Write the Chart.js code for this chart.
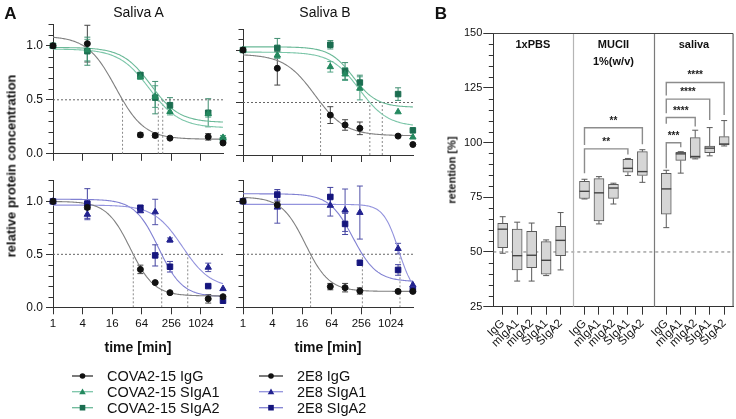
<!DOCTYPE html>
<html><head><meta charset="utf-8">
<script src="https://cdn.jsdelivr.net/npm/chart.js@4.4.1/dist/chart.umd.min.js"></script>
<style>
html,body{margin:0;padding:0;background:#fff}
body{width:736px;height:419px;position:relative;overflow:hidden;font-family:"Liberation Sans",Arial,Helvetica,sans-serif;color:#111}
canvas{position:absolute}
.tx{position:absolute;white-space:nowrap;line-height:1;transform:translate(-50%,-50%)}
.rot{transform:translate(-50%,-50%) rotate(-90deg)}
.lg{position:absolute;white-space:nowrap;line-height:1;transform:translateY(-50%);font-size:14.5px}
</style></head><body>
<canvas id="aTL" width="228" height="150" style="left:0;top:14px"></canvas>
<canvas id="aTR" width="190" height="150" style="left:228px;top:14px"></canvas>
<canvas id="aBL" width="228" height="170" style="left:0;top:170px"></canvas>
<canvas id="aBR" width="190" height="170" style="left:228px;top:170px"></canvas>
<canvas id="pB" width="296" height="340" style="left:440px;top:20px"></canvas>
<svg id="legSvg" style="position:absolute;left:0;top:360px" width="320" height="60"></svg>
<div class="tx" style="left:10.5px;top:13px;font-weight:bold;font-size:17px">A</div>
<div class="tx" style="left:441px;top:13px;font-weight:bold;font-size:17px">B</div>
<div class="tx" style="left:138.5px;top:11.5px;font-size:14px">Saliva A</div>
<div class="tx" style="left:325px;top:11.5px;font-size:14px">Saliva B</div>
<div class="tx rot" style="left:10.5px;top:166px;font-weight:bold;font-size:13px">relative protein concentration</div>
<div class="tx" style="left:138px;top:347px;font-weight:bold;font-size:14px">time [min]</div>
<div class="tx" style="left:328px;top:347px;font-weight:bold;font-size:14px">time [min]</div>
<div class="tx rot" style="left:452px;top:170px;font-weight:bold;font-size:11px">retention [%]</div>
<div id="legText"></div>
<script>
const F = '"Liberation Sans", Arial, Helvetica, sans-serif';
Chart.defaults.font.family = F;

// ---------------- Panel A data ----------------
const timesMin = [1, 5, 60, 120, 240, 1440, 2880];
const xTicksA = [1, 4, 16, 64, 256, 1024];
const yTicksA = [0, 0.5, 1.0];

// Saliva A, COVA2-15
const saA_covaIgG      = [1.00, 1.02, 0.175, 0.17, 0.145, 0.157, 0.10];
const saA_covaIgG_sd   = [0, 0.17, 0.02, 0.02, 0.01, 0.03, 0.01];
const saA_covaSIgA1    = [1.00, 0.96, 0.71, 0.53, 0.39, 0.37, 0.15];
const saA_covaSIgA1_sd = [0, 0.10, 0.02, 0.10, 0.03, 0.03, 0.02];
const saA_covaSIgA2    = [1.00, 0.95, 0.73, 0.52, 0.45, 0.38, 0.13];
const saA_covaSIgA2_sd = [0, 0.13, 0.02, 0.15, 0.07, 0.13, 0.02];
// Saliva B, COVA2-15
const saB_covaIgG      = [1.00, 0.826, 0.38, 0.286, 0.254, 0.18, 0.10];
const saB_covaIgG_sd   = [0, 0.16, 0.08, 0.05, 0.06, 0.01, 0];
const saB_covaSIgA1    = [1.00, 0.95, 0.84, 0.77, 0.635, 0.41, 0.17];
const saB_covaSIgA1_sd = [0, 0.03, 0.05, 0.06, 0.11, 0, 0];
const saB_covaSIgA2    = [1.00, 1.02, 1.05, 0.80, 0.69, 0.58, 0.235];
const saB_covaSIgA2_sd = [0, 0.09, 0.04, 0.08, 0.07, 0.06, 0];
// Saliva A, 2E8
const saA_e8IgG      = [1.00, 0.943, 0.358, 0.233, 0.138, 0.08, 0.10];
const saA_e8IgG_sd   = [0, 0.02, 0.04, 0.01, 0.01, 0.04, 0.01];
const saA_e8SIgA1    = [1.00, 0.877, 0.91, 0.90, 0.635, 0.377, 0.175];
const saA_e8SIgA1_sd = [0, 0.05, 0.01, 0.12, 0.02, 0.04, 0];
const saA_e8SIgA2    = [1.00, 0.98, 0.94, 0.49, 0.383, 0.20, 0.062];
const saA_e8SIgA2_sd = [0, 0.14, 0.02, 0.10, 0.05, 0, 0];
// Saliva B, 2E8
const saB_e8IgG      = [1.00, 0.965, 0.195, 0.185, 0.154, 0.15, 0.15];
const saB_e8IgG_sd   = [0, 0.03, 0.03, 0.04, 0.03, 0.01, 0];
const saB_e8SIgA1    = [1.00, 0.943, 0.96, 0.915, 0.893, 0.553, 0.21];
const saB_e8SIgA1_sd = [0, 0.15, 0.10, 0.20, 0.25, 0.05, 0];
const saB_e8SIgA2    = [1.00, 1.06, 1.04, 0.786, 0.42, 0.352, 0.163];
const saB_e8SIgA2_sd = [0, 0.05, 0.09, 0.10, 0, 0.05, 0];

// 4PL fit parameters: [top, bottom, time at 0.5, hill]
const fit_saA_covaIgG   = [1.09, 0.135, 26, 1.5];
const fit_saA_covaSIgA1 = [0.97, 0.24, 139, 1.4];
const fit_saA_covaSIgA2 = [0.985, 0.29, 171, 1.5];
const fit_saB_covaIgG   = [0.96, 0.184, 38, 1.4];
const fit_saB_covaSIgA1 = [0.98, 0.27, 383, 1.5];
const fit_saB_covaSIgA2 = [1.03, 0.454, 687, 1.8];
const fit_saA_e8IgG     = [1.00, 0.107, 43, 1.8];
const fit_saA_e8SIgA1   = [0.965, 0.18, 552, 1.5];
const fit_saA_e8SIgA2   = [1.02, 0.10, 163, 1.8];
const fit_saB_e8IgG     = [1.04, 0.15, 23.8, 1.8];
const fit_saB_e8SIgA1   = [0.97, 0.10, 1575, 2.8];
const fit_saB_e8SIgA2   = [1.07, 0.242, 270, 1.8];

const legendLeft  = ['COVA2-15 IgG', 'COVA2-15 SIgA1', 'COVA2-15 SIgA2'];
const legendRight = ['2E8 IgG', '2E8 SIgA1', '2E8 SIgA2'];

// ---------------- Panel B data ----------------
const bCategories = ['IgG', 'mIgA1', 'mIgA2', 'SIgA1', 'SIgA2'];
const bGroups = [['1xPBS'], ['MUCII', '1%(w/v)'], ['saliva']];
const yTicksB = [25, 50, 75, 100, 125, 150];
const refLineB = 50;
const pbsMin = [49.4, 36.7, 36.7, 39.2, 41.8];
const pbsQ1  = [52.0, 41.8, 42.8, 39.8, 48.3];
const pbsMed = [60.4, 48.3, 48.5, 46.2, 55.3];
const pbsQ3  = [63.1, 60.4, 59.4, 54.7, 61.7];
const pbsMax = [66.1, 63.6, 63.2, 55.5, 68.0];
const mucMin = [74.2, 62.8, 71.9, 84.9, 81.8];
const mucQ1  = [74.4, 64.2, 74.5, 86.4, 84.9];
const mucMed = [77.7, 77.0, 79.2, 88.2, 86.7];
const mucQ3  = [82.3, 83.5, 80.9, 92.3, 95.8];
const mucMax = [83.2, 84.4, 81.4, 92.7, 96.7];
const salMin = [61.1, 86.0, 92.5, 93.9, 98.4];
const salQ1  = [67.3, 91.8, 92.8, 95.4, 98.9];
const salMed = [78.8, 94.8, 93.6, 97.4, 99.3];
const salQ3  = [85.9, 95.5, 102.2, 98.3, 102.7];
const salMax = [87.3, 95.8, 105.6, 106.8, 110.0];
// significance brackets: [from, to, level, leftLegEnd, rightLegEnd, label]
const bracketsPbs = [];
const bracketsMuc = [[0, 3, 97.1, 86.0, 94.5, '**'], [0, 4, 106.7, 98.9, 99.2, '**']];
const bracketsSal = [[0, 1, 99.9, 88.2, 97.8, '***'], [0, 2, 111.4, 108.5, 107.3, '****'],
                     [0, 3, 119.8, 113.4, 110.3, '****'], [0, 4, 127.4, 121.4, 112.6, '****']];

// ---------------- styles ----------------
const STY = {
  igg:  {pt:'circle',   r:3.0, c:'#111111', e:'#444444', l:'#808080'},
  cA1:  {pt:'triangle', r:3.7, c:'#24895f', e:'#4fa283', l:'#7cc6a9'},
  cA2:  {pt:'rect',     r:3.9, c:'#1b6d50', e:'#3f8e70', l:'#6bb998'},
  eA1:  {pt:'triangle', r:3.7, c:'#22228f', e:'#5050a8', l:'#9393dd'},
  eA2:  {pt:'rect',     r:3.9, c:'#15157d', e:'#4242a0', l:'#8080d2'}
};
const AX = '#333333';

function fitCurve(p, tMax) {
  const [T, b, t50, h] = p;
  const ec = t50 / Math.pow((T - b) / (0.5 - b) - 1, 1 / h);
  const pts = [];
  const n = 160;
  for (let k = 0; k <= n; k++) {
    const t = Math.pow(tMax, k / n);
    pts.push({x: t, y: b + (T - b) / (1 + Math.pow(t / ec, h))});
  }
  return pts;
}

const errorBars = {
  id: 'errorBars',
  beforeDatasetsDraw(chart) {
    const {ctx, scales: {x, y}} = chart;
    chart.data.datasets.forEach(ds => {
      if (!ds.errors) return;
      ctx.save();
      ctx.strokeStyle = ds.errColor; ctx.lineWidth = 1;
      ds.data.forEach((p, j) => {
        const e = ds.errors[j]; if (!e) return;
        const px = x.getPixelForValue(p.x);
        const y1 = y.getPixelForValue(p.y + e), y2 = y.getPixelForValue(p.y - e);
        ctx.beginPath();
        ctx.moveTo(px, y1); ctx.lineTo(px, y2);
        ctx.moveTo(px - 3, y1); ctx.lineTo(px + 3, y1);
        ctx.moveTo(px - 3, y2); ctx.lineTo(px + 3, y2);
        ctx.stroke();
      });
      ctx.restore();
    });
  }
};
const minorA = {
  id: 'minorA',
  afterDraw(chart) {
    const {ctx, chartArea: {left}, scales: {y}} = chart;
    ctx.save(); ctx.strokeStyle = AX; ctx.lineWidth = 1;
    for (let k = 0; k <= 12; k++) {
      if (k % 5 === 0) continue;
      const py = Math.round(y.getPixelForValue(k / 10)) + 0.5;
      ctx.beginPath(); ctx.moveTo(left - 4.5, py); ctx.lineTo(left, py); ctx.stroke();
    }
    ctx.restore();
  }
};

function makeA(id, o) {
  const ds = [];
  o.series.forEach(s => {
    const st = STY[s.style];
    ds.push({data: timesMin.map((t, j) => ({x: t, y: s.vals[j]})), errors: s.sd, errColor: st.e,
      showLine: false, pointStyle: st.pt, pointRadius: st.r, pointBackgroundColor: st.c,
      pointBorderColor: st.c, pointBorderWidth: 1, order: 0, clip: false});
  });
  o.series.forEach(s => {
    const st = STY[s.style];
    ds.push({data: fitCurve(s.fit, o.tMax), borderColor: st.l, borderWidth: 1.1, pointRadius: 0, order: 1});
  });
  o.series.forEach(s => {
    ds.push({data: [{x: s.fit[2], y: 0}, {x: s.fit[2], y: 0.5}], borderColor: '#8a8a8a', borderWidth: 1,
      borderDash: [2, 2], pointRadius: 0, order: 2});
  });
  ds.push({data: [{x: 1, y: 0.5}, {x: o.tMax, y: 0.5}], borderColor: '#666', borderWidth: 1,
    borderDash: [2, 2], pointRadius: 0, order: 2});

  new Chart(document.getElementById(id), {
    type: 'line',
    data: {datasets: ds},
    options: {
      responsive: false, animation: false, events: [],
      layout: {padding: {top: o.padTop, right: o.padRight, left: 0, bottom: 0}},
      plugins: {legend: {display: false}, tooltip: {enabled: false}},
      scales: {
        x: {type: 'logarithmic', min: 1, max: o.tMax,
          afterBuildTicks: s => { s.ticks = xTicksA.map(v => ({value: v})); },
          afterFit: s => { s.height = o.xH; },
          ticks: {display: o.xLabels, autoSkip: false, maxRotation: 0, callback: v => String(v),
            font: {size: 11.5}, color: '#111', padding: 3},
          grid: {drawOnChartArea: false, tickLength: 7, color: AX},
          border: {color: AX, width: 1}},
        y: {type: 'linear', min: 0, max: 1.2,
          afterBuildTicks: s => { s.ticks = yTicksA.map(v => ({value: v})); },
          afterFit: s => { s.width = o.yW; },
          ticks: {display: o.yLabels, callback: v => Number(v).toFixed(1), font: {size: 12}, color: '#111', padding: 3},
          grid: {drawOnChartArea: false, tickLength: 7, color: AX},
          border: {color: AX, width: 1}}
      }
    },
    plugins: [errorBars, minorA]
  });
}

makeA('aTL', {tMax: 2880, yW: 53, xH: 10, padTop: 10, padRight: 5, yLabels: true, xLabels: false, series: [
  {vals: saA_covaIgG, sd: saA_covaIgG_sd, fit: fit_saA_covaIgG, style: 'igg'},
  {vals: saA_covaSIgA1, sd: saA_covaSIgA1_sd, fit: fit_saA_covaSIgA1, style: 'cA1'},
  {vals: saA_covaSIgA2, sd: saA_covaSIgA2_sd, fit: fit_saA_covaSIgA2, style: 'cA2'}]});
makeA('aTR', {tMax: 2900, yW: 15, xH: 9, padTop: 15, padRight: 5, yLabels: false, xLabels: false, series: [
  {vals: saB_covaIgG, sd: saB_covaIgG_sd, fit: fit_saB_covaIgG, style: 'igg'},
  {vals: saB_covaSIgA1, sd: saB_covaSIgA1_sd, fit: fit_saB_covaSIgA1, style: 'cA1'},
  {vals: saB_covaSIgA2, sd: saB_covaSIgA2_sd, fit: fit_saB_covaSIgA2, style: 'cA2'}]});
makeA('aBL', {tMax: 2880, yW: 53, xH: 32.7, padTop: 10, padRight: 5, yLabels: true, xLabels: true, series: [
  {vals: saA_e8IgG, sd: saA_e8IgG_sd, fit: fit_saA_e8IgG, style: 'igg'},
  {vals: saA_e8SIgA1, sd: saA_e8SIgA1_sd, fit: fit_saA_e8SIgA1, style: 'eA1'},
  {vals: saA_e8SIgA2, sd: saA_e8SIgA2_sd, fit: fit_saA_e8SIgA2, style: 'eA2'}]});
makeA('aBR', {tMax: 2900, yW: 15, xH: 32.7, padTop: 10, padRight: 5, yLabels: false, xLabels: true, series: [
  {vals: saB_e8IgG, sd: saB_e8IgG_sd, fit: fit_saB_e8IgG, style: 'igg'},
  {vals: saB_e8SIgA1, sd: saB_e8SIgA1_sd, fit: fit_saB_e8SIgA1, style: 'eA1'},
  {vals: saB_e8SIgA2, sd: saB_e8SIgA2_sd, fit: fit_saB_e8SIgA2, style: 'eA2'}]});

// ---------------- legend ----------------
(function () {
  const svg = document.getElementById('legSvg');
  const rows = [16, 31.7, 47.7];
  const styles = [['igg', 'cA1', 'cA2'], ['igg', 'eA1', 'eA2']];
  const cols = [{x1: 72, x2: 93, tx: 107, labels: legendLeft}, {x1: 259, x2: 283, tx: 297, labels: legendRight}];
  let html = '';
  cols.forEach((c, ci) => {
    c.labels.forEach((lab, ri) => {
      const st = STY[styles[ci][ri]];
      const cy = rows[ri], cx = (c.x1 + c.x2) / 2;
      const lc = st.pt === 'circle' ? '#333' : st.l;
      html += `<line x1="${c.x1}" y1="${cy}" x2="${c.x2}" y2="${cy}" stroke="${lc}" stroke-width="1.3"/>`;
      if (st.pt === 'circle') html += `<circle cx="${cx}" cy="${cy}" r="2.8" fill="${st.c}"/>`;
      else if (st.pt === 'triangle') html += `<polygon points="${cx},${cy - 3.3} ${cx + 3.3},${cy + 2.6} ${cx - 3.3},${cy + 2.6}" fill="${st.c}"/>`;
      else html += `<rect x="${cx - 2.8}" y="${cy - 2.8}" width="5.6" height="5.6" fill="${st.c}"/>`;
      const d = document.createElement('div');
      d.className = 'lg'; d.textContent = lab;
      d.style.left = c.tx + 'px'; d.style.top = (360 + cy) + 'px';
      document.getElementById('legText').appendChild(d);
    });
  });
  svg.innerHTML = html;
})();

// ---------------- Panel B ----------------
const GROUP_STRIDE = 5.65;
const groupsB = [
  {min: pbsMin, q1: pbsQ1, med: pbsMed, q3: pbsQ3, max: pbsMax, br: bracketsPbs},
  {min: mucMin, q1: mucQ1, med: mucMed, q3: mucQ3, max: mucMax, br: bracketsMuc},
  {min: salMin, q1: salQ1, med: salMed, q3: salQ3, max: salMax, br: bracketsSal}];
const posB = (g, i) => g * GROUP_STRIDE + i;
const boxData = [];
groupsB.forEach((g, gi) => bCategories.forEach((c, i) => boxData.push({x: posB(gi, i), y: [g.q1[i], g.q3[i]]})));
const tickPosB = boxData.map(d => d.x);

const boxExtras = {
  id: 'boxExtras',
  beforeDatasetsDraw(chart) {
    const {ctx, chartArea: {left, right, top, bottom}, scales: {x, y}} = chart;
    ctx.save();
    const py = y.getPixelForValue(refLineB);
    ctx.strokeStyle = '#777'; ctx.lineWidth = 1; ctx.setLineDash([3, 3]);
    ctx.beginPath(); ctx.moveTo(left, py); ctx.lineTo(right, py); ctx.stroke();
    ctx.setLineDash([]);
    const sepCol = ['#b5b5b5', '#7a7a7a'];
    for (let g = 1; g < groupsB.length; g++) {
      const sx = Math.round(x.getPixelForValue((posB(g - 1, 4) + posB(g, 0)) / 2)) + 0.5;
      ctx.strokeStyle = sepCol[g - 1]; ctx.lineWidth = 1.2;
      ctx.beginPath(); ctx.moveTo(sx, top); ctx.lineTo(sx, bottom); ctx.stroke();
    }
    ctx.restore();
  },
  afterDatasetsDraw(chart) {
    const {ctx, scales: {x, y}} = chart;
    ctx.save();
    groupsB.forEach((g, gi) => {
      bCategories.forEach((c, i) => {
        const px = x.getPixelForValue(posB(gi, i));
        const yq1 = y.getPixelForValue(g.q1[i]), yq3 = y.getPixelForValue(g.q3[i]);
        const ymin = y.getPixelForValue(g.min[i]), ymax = y.getPixelForValue(g.max[i]);
        const ymed = y.getPixelForValue(g.med[i]);
        ctx.strokeStyle = '#5a5a5a'; ctx.lineWidth = 1;
        ctx.beginPath();
        ctx.moveTo(px, yq3); ctx.lineTo(px, ymax); ctx.moveTo(px - 3, ymax); ctx.lineTo(px + 3, ymax);
        ctx.moveTo(px, yq1); ctx.lineTo(px, ymin); ctx.moveTo(px - 3, ymin); ctx.lineTo(px + 3, ymin);
        ctx.stroke();
        ctx.strokeStyle = '#444'; ctx.lineWidth = 1.4;
        ctx.beginPath(); ctx.moveTo(px - 5, ymed); ctx.lineTo(px + 5, ymed); ctx.stroke();
      });
      g.br.forEach(b => {
        const [from, to, lvl, lEnd, rEnd, lab] = b;
        const x1 = x.getPixelForValue(posB(gi, from)), x2 = x.getPixelForValue(posB(gi, to));
        const yl = y.getPixelForValue(lvl);
        ctx.strokeStyle = '#8c8c8c'; ctx.lineWidth = 1.4;
        ctx.beginPath();
        ctx.moveTo(x1, y.getPixelForValue(lEnd)); ctx.lineTo(x1, yl); ctx.lineTo(x2, yl); ctx.lineTo(x2, y.getPixelForValue(rEnd));
        ctx.stroke();
        ctx.fillStyle = '#222'; ctx.font = 'bold 10px ' + F; ctx.textAlign = 'center'; ctx.textBaseline = 'alphabetic';
        ctx.fillText(lab, (x1 + x2) / 2, yl - 4);
      });
    });
    ctx.restore();
  },
  afterDraw(chart) {
    const {ctx, chartArea: {left, right, top, bottom}, scales: {x, y}} = chart;
    ctx.save();
    ctx.strokeStyle = AX; ctx.lineWidth = 1;
    for (let v = 25; v <= 150; v += 5) {
      if (v % 25 === 0) continue;
      const py = Math.round(y.getPixelForValue(v)) + 0.5;
      ctx.beginPath(); ctx.moveTo(left - 4.5, py); ctx.lineTo(left, py); ctx.stroke();
    }
    ctx.strokeStyle = '#444';
    ctx.beginPath(); ctx.moveTo(left, top + 0.5); ctx.lineTo(right - 0.5, top + 0.5); ctx.lineTo(right - 0.5, bottom); ctx.stroke();
    const edges = [left];
    for (let g = 1; g < groupsB.length; g++) edges.push(x.getPixelForValue((posB(g - 1, 4) + posB(g, 0)) / 2));
    edges.push(right);
    ctx.fillStyle = '#111'; ctx.font = 'bold 11px ' + F; ctx.textAlign = 'center'; ctx.textBaseline = 'middle';
    bGroups.forEach((lines, g) => {
      const cx = (edges[g] + edges[g + 1]) / 2;
      lines.forEach((t, k) => ctx.fillText(t, cx, top + 12 + k * 17));
    });
    ctx.restore();
  }
};

new Chart(document.getElementById('pB'), {
  type: 'bar',
  data: {datasets: [{data: boxData, barThickness: 10, backgroundColor: '#d6d6d6', borderColor: '#5a5a5a',
    borderWidth: 1, borderSkipped: false}]},
  options: {
    responsive: false, animation: false, events: [],
    layout: {padding: {top: 13, right: 2, left: 0, bottom: 0}},
    plugins: {legend: {display: false}, tooltip: {enabled: false}},
    scales: {
      x: {type: 'linear', min: -0.65, max: 15.95, offset: false,
        afterBuildTicks: s => { s.ticks = tickPosB.map(v => ({value: v})); },
        afterFit: s => { s.height = 53.3; },
        ticks: {autoSkip: false, minRotation: 45, maxRotation: 45, callback: (v, i) => bCategories[i % 5],
          font: {size: 11.5}, color: '#111', padding: 2},
        grid: {drawOnChartArea: false, offset: false, tickLength: 8, color: AX},
        border: {color: AX, width: 1}},
      y: {type: 'linear', min: 25, max: 150, beginAtZero: false,
        afterBuildTicks: s => { s.ticks = yTicksB.map(v => ({value: v})); },
        afterFit: s => { s.width = 53.3; },
        ticks: {callback: v => String(v), font: {size: 11}, color: '#111', padding: 1},
        grid: {drawOnChartArea: false, tickLength: 10, color: AX},
        border: {color: AX, width: 1}}
    }
  },
  plugins: [boxExtras]
});
</script>
</body></html>
